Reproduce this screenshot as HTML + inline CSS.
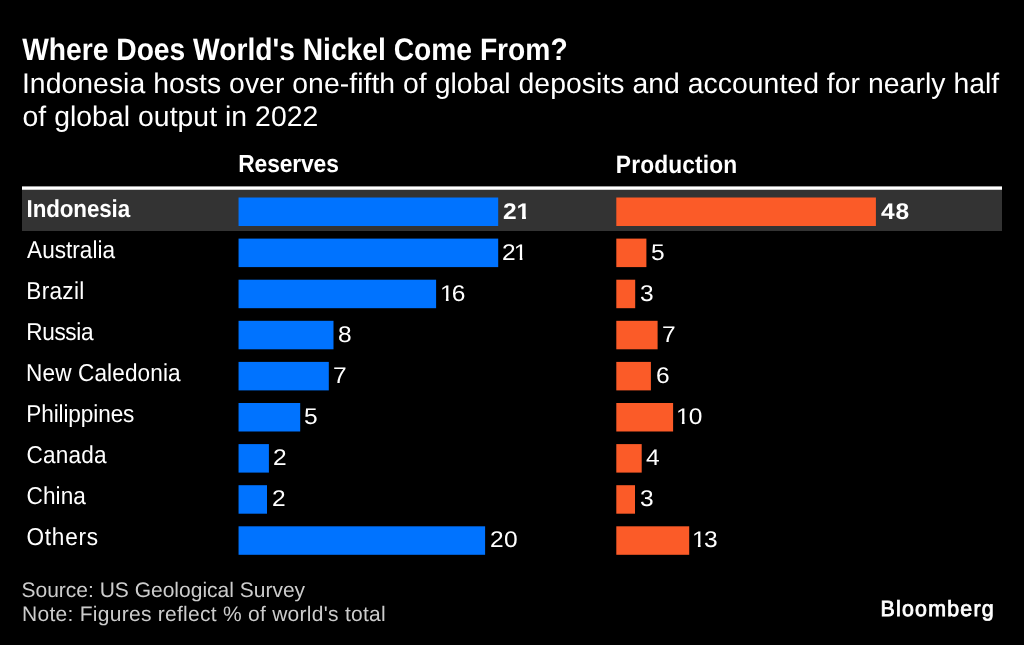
<!DOCTYPE html>
<html><head><meta charset="utf-8">
<style>
html,body{margin:0;padding:0;background:#000;}
body{width:1024px;height:645px;position:relative;overflow:hidden;font-family:"Liberation Sans",sans-serif;color:#fff;text-rendering:geometricPrecision;}
.x{position:absolute;white-space:nowrap;}
#tl{position:absolute;left:0;top:0;width:1024px;height:645px;will-change:transform;}
svg{position:absolute;left:0;top:0;}
</style></head><body>
<svg width="1024" height="645" viewBox="0 0 1024 645">
<rect x="22" y="190" width="980" height="41" fill="#333333"/>
<rect x="22" y="186.4" width="980" height="3.4" fill="#ffffff"/>
<rect x="238.55" y="197.50" width="259.65" height="28.5" fill="#0073ff"/>
<rect x="616.3" y="197.50" width="259.60" height="28.5" fill="#fb5b28"/>
<rect x="238.55" y="238.60" width="259.65" height="28.5" fill="#0073ff"/>
<rect x="616.3" y="238.60" width="30.10" height="28.5" fill="#fb5b28"/>
<rect x="238.55" y="279.70" width="197.55" height="28.5" fill="#0073ff"/>
<rect x="616.3" y="279.70" width="18.90" height="28.5" fill="#fb5b28"/>
<rect x="238.55" y="320.80" width="94.95" height="28.5" fill="#0073ff"/>
<rect x="616.3" y="320.80" width="41.30" height="28.5" fill="#fb5b28"/>
<rect x="238.55" y="361.90" width="90.25" height="28.5" fill="#0073ff"/>
<rect x="616.3" y="361.90" width="34.60" height="28.5" fill="#fb5b28"/>
<rect x="238.55" y="403.00" width="61.65" height="28.5" fill="#0073ff"/>
<rect x="616.3" y="403.00" width="56.80" height="28.5" fill="#fb5b28"/>
<rect x="238.55" y="444.10" width="30.35" height="28.5" fill="#0073ff"/>
<rect x="616.3" y="444.10" width="25.40" height="28.5" fill="#fb5b28"/>
<rect x="238.55" y="485.20" width="28.45" height="28.5" fill="#0073ff"/>
<rect x="616.3" y="485.20" width="18.70" height="28.5" fill="#fb5b28"/>
<rect x="238.55" y="526.30" width="246.55" height="28.5" fill="#0073ff"/>
<rect x="616.3" y="526.30" width="72.90" height="28.5" fill="#fb5b28"/>
</svg>
<div id="tl">
<div id="title" class="x" style="left:22.22px;top:36px;font-size:28.2px;line-height:28.2px;font-weight:bold;letter-spacing:0.012px;transform:scale(1.0,1.1);transform-origin:0 24px;">Where Does World's Nickel Come From?</div>
<div id="sub1" class="x" style="left:21.94px;top:70px;font-size:28.35px;line-height:28.35px;letter-spacing:0.045px;">Indonesia hosts over one-fifth of global deposits and accounted for nearly half</div>
<div id="sub2" class="x" style="left:22.50px;top:103px;font-size:28.35px;line-height:28.35px;letter-spacing:0.048px;">of global output in 2022</div>
<div id="hdrR" class="x" style="left:238.25px;top:153px;font-size:22.8px;line-height:22.8px;font-weight:bold;letter-spacing:-0.121px;transform:scale(1.0,1.08);transform-origin:0 19px;">Reserves</div>
<div id="hdrP" class="x" style="left:615.85px;top:154px;font-size:22.8px;line-height:22.8px;font-weight:bold;letter-spacing:0.124px;transform:scale(1.0,1.1);transform-origin:0 19px;">Production</div>
<div id="lab0" class="x" style="left:26.56px;top:199px;font-size:22.4px;line-height:22.4px;font-weight:bold;letter-spacing:-0.120px;transform:scale(1.0,1.0901162790697676);transform-origin:0 18px;">Indonesia</div>
<div id="rv0" class="x" style="left:502.92px;top:200px;font-size:22.7px;line-height:22.7px;font-weight:bold;letter-spacing:-0.046px;transform:scale(1.08,1.0);transform-origin:0 19px;">2<span style="display:inline-block;clip-path:polygon(-6px -6px,18.62px -6px,18.62px 15.78px,8.66px 15.78px,8.66px 25px,5.05px 25px,5.05px 15.78px,-6px 15.78px)">1</span></div>
<div id="pv0" class="x" style="left:880.54px;top:200px;font-size:22.7px;line-height:22.7px;font-weight:bold;letter-spacing:0.750px;transform:scale(1.08,1.0);transform-origin:0 19px;">48</div>
<div id="lab1" class="x" style="left:27.12px;top:240px;font-size:22.6px;line-height:22.6px;letter-spacing:0.002px;transform:scale(1.0,1.080469232352336);transform-origin:0 18px;">Australia</div>
<div id="rv1" class="x" style="left:501.92px;top:241px;font-size:22.7px;line-height:22.7px;letter-spacing:-1.657px;transform:scale(1.08,1.0);transform-origin:0 19px;">2<span style="display:inline-block;clip-path:polygon(-6px -6px,18.62px -6px,18.62px 16.40px,7.96px 16.40px,7.96px 25px,5.46px 25px,5.46px 16.40px,-6px 16.40px)">1</span></div>
<div id="pv1" class="x" style="left:650.64px;top:241px;font-size:22.7px;line-height:22.7px;transform:scale(1.08,1.0);transform-origin:0 19px;">5</div>
<div id="lab2" class="x" style="left:26.31px;top:281px;font-size:22.6px;line-height:22.6px;letter-spacing:0.282px;transform:scale(1.0,1.080469232352336);transform-origin:0 18px;">Brazil</div>
<div id="rv2" class="x" style="left:439.73px;top:282px;font-size:22.7px;line-height:22.7px;letter-spacing:-1.769px;transform:scale(1.08,1.0);transform-origin:0 19px;"><span style="display:inline-block;clip-path:polygon(-6px -6px,18.62px -6px,18.62px 16.40px,7.96px 16.40px,7.96px 25px,5.46px 25px,5.46px 16.40px,-6px 16.40px)">1</span>6</div>
<div id="pv2" class="x" style="left:640.10px;top:282px;font-size:22.7px;line-height:22.7px;transform:scale(1.08,1.0);transform-origin:0 19px;">3</div>
<div id="lab3" class="x" style="left:26.23px;top:322px;font-size:22.6px;line-height:22.6px;letter-spacing:-0.344px;transform:scale(1.0,1.080469232352336);transform-origin:0 18px;">Russia</div>
<div id="rv3" class="x" style="left:338.44px;top:323px;font-size:22.7px;line-height:22.7px;transform:scale(1.08,1.0);transform-origin:0 19px;">8</div>
<div id="pv3" class="x" style="left:661.84px;top:323px;font-size:22.7px;line-height:22.7px;transform:scale(1.08,1.0);transform-origin:0 19px;">7</div>
<div id="lab4" class="x" style="left:26.11px;top:363px;font-size:22.6px;line-height:22.6px;letter-spacing:0.108px;transform:scale(1.0,1.080469232352336);transform-origin:0 18px;">New Caledonia</div>
<div id="rv4" class="x" style="left:332.64px;top:364px;font-size:22.7px;line-height:22.7px;transform:scale(1.08,1.0);transform-origin:0 19px;">7</div>
<div id="pv4" class="x" style="left:656.10px;top:364px;font-size:22.7px;line-height:22.7px;transform:scale(1.08,1.0);transform-origin:0 19px;">6</div>
<div id="lab5" class="x" style="left:26.23px;top:404px;font-size:22.6px;line-height:22.6px;letter-spacing:-0.109px;transform:scale(1.0,1.080469232352336);transform-origin:0 18px;">Philippines</div>
<div id="rv5" class="x" style="left:303.64px;top:405px;font-size:22.7px;line-height:22.7px;transform:scale(1.08,1.0);transform-origin:0 19px;">5</div>
<div id="pv5" class="x" style="left:675.73px;top:405px;font-size:22.7px;line-height:22.7px;letter-spacing:-0.769px;transform:scale(1.08,1.0);transform-origin:0 19px;"><span style="display:inline-block;clip-path:polygon(-6px -6px,18.62px -6px,18.62px 16.40px,7.96px 16.40px,7.96px 25px,5.46px 25px,5.46px 16.40px,-6px 16.40px)">1</span>0</div>
<div id="lab6" class="x" style="left:26.51px;top:445px;font-size:22.6px;line-height:22.6px;letter-spacing:0.188px;transform:scale(1.0,1.080469232352336);transform-origin:0 18px;">Canada</div>
<div id="rv6" class="x" style="left:272.82px;top:446px;font-size:22.7px;line-height:22.7px;transform:scale(1.08,1.0);transform-origin:0 19px;">2</div>
<div id="pv6" class="x" style="left:645.90px;top:446px;font-size:22.7px;line-height:22.7px;transform:scale(1.08,1.0);transform-origin:0 19px;">4</div>
<div id="lab7" class="x" style="left:26.51px;top:486px;font-size:22.6px;line-height:22.6px;letter-spacing:0.080px;transform:scale(1.0,1.080469232352336);transform-origin:0 18px;">China</div>
<div id="rv7" class="x" style="left:271.92px;top:487px;font-size:22.7px;line-height:22.7px;transform:scale(1.08,1.0);transform-origin:0 19px;">2</div>
<div id="pv7" class="x" style="left:639.50px;top:487px;font-size:22.7px;line-height:22.7px;transform:scale(1.08,1.0);transform-origin:0 19px;">3</div>
<div id="lab8" class="x" style="left:26.45px;top:527px;font-size:22.6px;line-height:22.6px;letter-spacing:0.784px;transform:scale(1.0,1.080469232352336);transform-origin:0 18px;">Others</div>
<div id="rv8" class="x" style="left:490.22px;top:528px;font-size:22.7px;line-height:22.7px;letter-spacing:0.361px;transform:scale(1.08,1.0);transform-origin:0 19px;">20</div>
<div id="pv8" class="x" style="left:691.83px;top:528px;font-size:22.7px;line-height:22.7px;letter-spacing:-1.537px;transform:scale(1.08,1.0);transform-origin:0 19px;"><span style="display:inline-block;clip-path:polygon(-6px -6px,18.62px -6px,18.62px 16.40px,7.96px 16.40px,7.96px 25px,5.46px 25px,5.46px 16.40px,-6px 16.40px)">1</span>3</div>
<div id="foot1" class="x" style="left:21.47px;top:580px;font-size:21px;line-height:21px;letter-spacing:-0.001px;color:#cccccc;">Source: US Geological Survey</div>
<div id="foot2" class="x" style="left:22.11px;top:604px;font-size:21px;line-height:21px;letter-spacing:0.271px;color:#cccccc;">Note: Figures reflect % of world's total</div>
<div id="logo" class="x" style="left:880.45px;top:599px;font-size:21.4px;line-height:21.4px;letter-spacing:1.222px;transform:scale(1.0,1.0255922625516194);transform-origin:0 17px;-webkit-text-stroke:0.8px #fff;">Bloomberg</div>
</div>
</body></html>
